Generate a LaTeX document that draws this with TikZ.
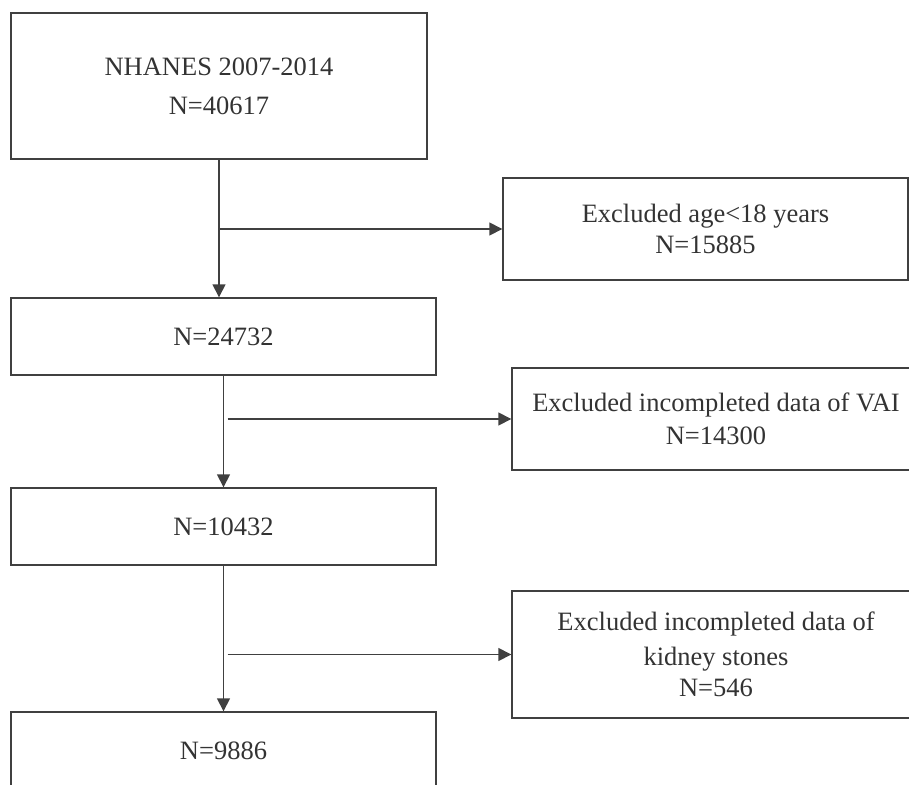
\documentclass[tikz,border=0pt]{standalone}
\usepackage{fontspec}
\setmainfont{Liberation Serif}
\usetikzlibrary{arrows.meta}
\definecolor{linegray}{HTML}{404040}
\definecolor{textgray}{HTML}{333333}

\begin{document}
\begin{tikzpicture}[x=1pt,y=-1pt]
\tikzset{
  flowbox/.style={rectangle,draw=linegray,line width=1.4pt,inner sep=0pt,align=center,
    text=textgray,font=\fontsize{26.5}{33}\selectfont},
  directed/.style={-{Triangle[length=13pt,width=13pt]},draw=linegray,line width=1.5pt}
}
\useasboundingbox (0,0) rectangle (909,784);
\node[flowbox,minimum width=416pt,minimum height=146pt] (n_all) at (219,86) {NHANES 2007-2014\\[6pt]N=40617};
\node[flowbox,minimum width=425pt,minimum height=77pt] (n_adult) at (223.5,336.5) {N=24732};
\node[flowbox,minimum width=425pt,minimum height=77pt] (n_vai) at (223.5,526.5) {N=10432};
\node[flowbox,minimum width=425pt,minimum height=78pt] (n_final) at (223.5,751) {N=9886};
\node[flowbox,minimum width=405pt,minimum height=102pt] (x_age) at (705.5,229) {Excluded age<18 years\\[-2pt]N=15885};
\node[flowbox,minimum width=408pt,minimum height=102pt] (x_vai) at (716,419) {Excluded incompleted data of VAI\\N=14300};
\node[flowbox,minimum width=408pt,minimum height=127pt] (x_ks) at (716,654.5) {Excluded incompleted data of\\[2pt]kidney stones\\[-2pt]N=546};
\coordinate (c_age) at (n_all.south |- x_age.west);
\coordinate (c_vai) at ([xshift=4pt]n_adult.south |- x_vai.west);
\coordinate (c_ks) at ([xshift=4pt]n_vai.south |- x_ks.west);
\draw[directed] (n_all.south) -- (n_all.south |- n_adult.north);
\draw[directed] (n_adult.south) -- (n_vai.north);
\draw[directed] (n_vai.south) -- (n_final.north);
\draw[directed] (c_age) -- (x_age.west);
\draw[directed] (c_vai) -- (x_vai.west);
\draw[directed] (c_ks) -- (x_ks.west);
\end{tikzpicture}
\end{document}
